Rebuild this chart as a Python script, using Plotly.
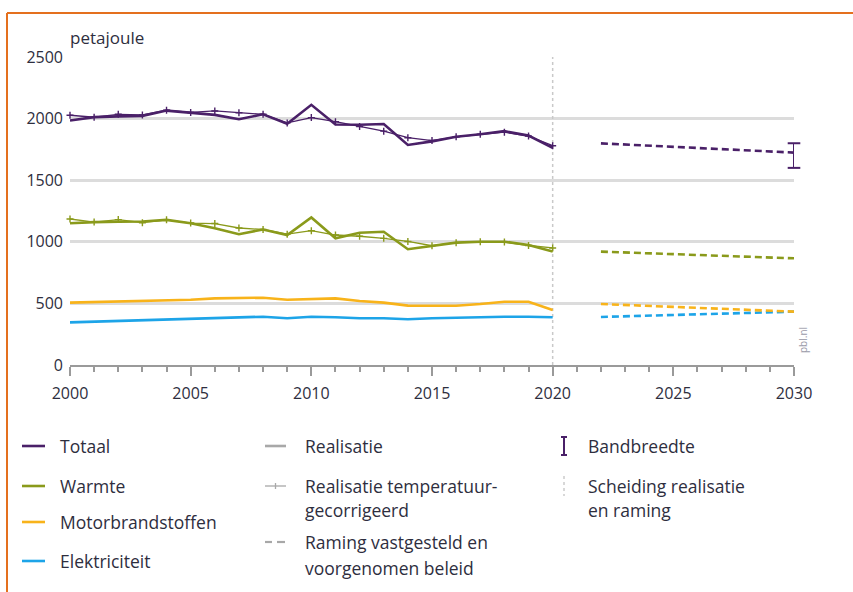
import plotly.graph_objects as go

years = list(range(2000, 2021))
totaal_real = [1985, 2012, 2018, 2022, 2065, 2050, 2030, 1995, 2035, 1958, 2112, 1952, 1950, 1956, 1786, 1815, 1852, 1873, 1898, 1862, 1762]
totaal_temp = [2027, 2011, 2035, 2030, 2068, 2050, 2062, 2048, 2035, 1965, 2008, 1975, 1935, 1898, 1845, 1822, 1852, 1873, 1890, 1858, 1780]
warmte_real = [1150, 1160, 1163, 1165, 1178, 1150, 1110, 1062, 1100, 1055, 1198, 1028, 1074, 1082, 940, 966, 993, 1001, 1001, 974, 922]
warmte_temp = [1185, 1160, 1180, 1155, 1178, 1152, 1148, 1112, 1100, 1062, 1090, 1055, 1045, 1028, 1003, 968, 993, 1001, 998, 970, 950]
motor_real = [506, 510, 514, 518, 522, 530, 541, 545, 546, 530, 535, 541, 519, 506, 482, 481, 481, 495, 514, 514, 446]
elektr_real = [346, 352, 357, 362, 371, 376, 381, 386, 392, 379, 392, 387, 379, 379, 371, 379, 384, 387, 392, 392, 387]

proj_years = [2022, 2030]
totaal_proj = [1799, 1724]
warmte_proj = [920, 866]
motor_proj = [495, 433]
elektr_proj = [390, 433]

band_year = 2030
band_low = 1600
band_high = 1800

sep_year = 2020
y_ticks = [0, 500, 1000, 1500, 2000, 2500]
x_ticks = [2000, 2005, 2010, 2015, 2020, 2025, 2030]

PURPLE = "#4a2068"
GREEN = "#8a9a1b"
YELLOW = "#f8b31a"
BLUE = "#1da4e8"
GRAY = "#a8a8a8"
TEXT = "#2e2e3e"
FONT = "Open Sans"

fig = go.Figure()

# separator
fig.add_trace(go.Scatter(x=[sep_year, sep_year], y=[y_ticks[0], y_ticks[-1]], mode="lines",
                         line=dict(color="#c9c9c9", width=1.5, dash="dot"), showlegend=False, hoverinfo="skip"))

def add_series(vals, color, temp=None, proj=None):
    if temp is not None:
        fig.add_trace(go.Scatter(x=years, y=temp, mode="lines+markers",
                                 line=dict(color=color, width=1.3),
                                 marker=dict(symbol="cross-thin", size=5, line=dict(color=color, width=1.4)),
                                 showlegend=False, cliponaxis=False))
    fig.add_trace(go.Scatter(x=years, y=vals, mode="lines", line=dict(color=color, width=2.6),
                             showlegend=False, cliponaxis=False))
    if proj is not None:
        fig.add_trace(go.Scatter(x=proj_years, y=proj, mode="lines",
                                 line=dict(color=color, width=2.6, dash="7px,4px"),
                                 showlegend=False, cliponaxis=False))

add_series(elektr_real, BLUE, proj=elektr_proj)
add_series(motor_real, YELLOW, proj=motor_proj)
add_series(warmte_real, GREEN, temp=warmte_temp, proj=warmte_proj)
add_series(totaal_real, PURPLE, temp=totaal_temp, proj=totaal_proj)

# bandwidth bar
fig.add_trace(go.Scatter(x=[band_year, band_year], y=[band_low, band_high], mode="lines+markers",
                         line=dict(color=PURPLE, width=2),
                         marker=dict(symbol="line-ew", size=9, line=dict(color=PURPLE, width=2)),
                         showlegend=False, cliponaxis=False))

# layout geometry (pixels)
L, R, T, B = 70, 794, 57, 365
W, H = 853, 592

def px(xp):
    return (xp - L) / (R - L)

def py(yp):
    return (B - yp) / (B - T)

shapes = []
annotations = []

# orange frame
shapes.append(dict(type="line", xref="paper", yref="paper", x0=px(7), x1=px(860), y0=py(13), y1=py(13),
                   line=dict(color="#e4701e", width=2)))
shapes.append(dict(type="line", xref="paper", yref="paper", x0=px(7), x1=px(7), y0=py(13), y1=py(600),
                   line=dict(color="#e4701e", width=2)))

annotations.append(dict(text="petajoule", xref="paper", yref="paper", x=px(68), y=py(38), xanchor="left",
                        yanchor="middle", showarrow=False, font=dict(family=FONT, size=17, color=TEXT)))
annotations.append(dict(text="pbl.nl", xref="paper", yref="paper", x=px(803), y=py(340), textangle=-90,
                        xanchor="center", yanchor="middle", showarrow=False,
                        font=dict(family=FONT, size=10, color="#9a9aa8")))

def leg_text(x, y, txt):
    annotations.append(dict(text=txt, xref="paper", yref="paper", x=px(x - 2), y=py(y), xanchor="left",
                            yanchor="middle", showarrow=False, align="left",
                            font=dict(family=FONT, size=17.5, color=TEXT)))

def leg_line(x0, x1, y, color, width=2.6, dash="solid"):
    shapes.append(dict(type="line", xref="paper", yref="paper", x0=px(x0), x1=px(x1), y0=py(y), y1=py(y),
                       line=dict(color=color, width=width, dash=dash)))

# column 1
for y, c, t in [(446, PURPLE, "Totaal"), (486, GREEN, "Warmte"), (522, YELLOW, "Motorbrandstoffen"),
                (561, BLUE, "Elektriciteit")]:
    leg_line(22, 45, y, c)
    leg_text(60, y, t)

# column 2
leg_line(265, 286, 446, GRAY)
leg_text(305, 446, "Realisatie")
leg_line(265, 286, 486, GRAY, width=1.3)
shapes.append(dict(type="line", xref="paper", yref="paper", x0=px(275.5), x1=px(275.5), y0=py(483), y1=py(489),
                   line=dict(color=GRAY, width=1.3)))
leg_text(305, 486, "Realisatie temperatuur-")
leg_text(305, 510, "gecorrigeerd")
leg_line(265, 272, 542, GRAY, width=2.2)
leg_line(277, 285, 542, GRAY, width=2.2)
leg_text(305, 542, "Raming vastgesteld en")
leg_text(305, 568, "voorgenomen beleid")

# column 3
shapes.append(dict(type="line", xref="paper", yref="paper", x0=px(564), x1=px(564), y0=py(437), y1=py(455),
                   line=dict(color=PURPLE, width=2)))
shapes.append(dict(type="line", xref="paper", yref="paper", x0=px(561), x1=px(567), y0=py(437), y1=py(437),
                   line=dict(color=PURPLE, width=2)))
shapes.append(dict(type="line", xref="paper", yref="paper", x0=px(561), x1=px(567), y0=py(455), y1=py(455),
                   line=dict(color=PURPLE, width=2)))
leg_text(588, 446, "Bandbreedte")
shapes.append(dict(type="line", xref="paper", yref="paper", x0=px(564), x1=px(564), y0=py(476), y1=py(496),
                   line=dict(color="#cccccc", width=1.5, dash="dot")))
leg_text(588, 486, "Scheiding realisatie")
leg_text(588, 510, "en raming")

fig.update_layout(
    width=W, height=H,
    margin=dict(l=L, r=W - R, t=T, b=H - B, pad=0),
    paper_bgcolor="white", plot_bgcolor="white",
    showlegend=False,
    shapes=shapes, annotations=annotations,
    xaxis=dict(range=[2000, 2030], showgrid=False, zeroline=False, showline=True, linecolor="#9a9a9a",
               linewidth=2, ticks="outside", ticklen=9, tickwidth=2, tickcolor="#9a9a9a",
               tickmode="array", tickvals=x_ticks, ticklabelstandoff=4,
               minor=dict(dtick=1, ticklen=5, tickwidth=1.5, tickcolor="#9a9a9a", ticks="outside"),
               tickfont=dict(family=FONT, size=16, color=TEXT), fixedrange=True),
    yaxis=dict(range=[0, 2500], tickvals=y_ticks, showgrid=True, gridcolor="#dcdcdc", gridwidth=3,
               zeroline=False, showline=False, ticks="", ticklabelstandoff=6,
               tickfont=dict(family=FONT, size=16, color=TEXT), fixedrange=True),
)

fig.write_html("out.html", config={"displayModeBar": False},
               post_script="document.body.style.margin='0px';")
